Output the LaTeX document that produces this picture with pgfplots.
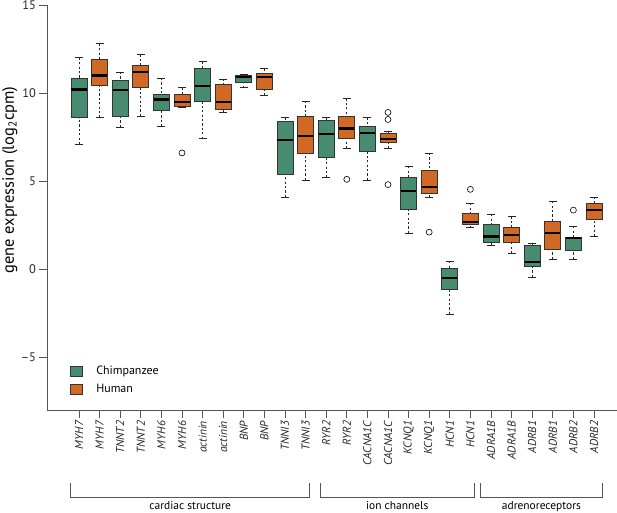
\documentclass[border=0pt]{standalone}
\usepackage{fontspec}
\setmainfont{PT Sans}
\usepackage{pgfplots}
\pgfplotsset{compat=1.18}
\usepgfplotslibrary{statistics}
\definecolor{chimp}{RGB}{71,140,112}
\definecolor{human}{RGB}{209,104,36}
\definecolor{axgray}{RGB}{85,85,85}

\pgfplotsset{
  rbox/.style={
    boxplot/draw direction=y,
    boxplot/draw/box/.code={%
      \draw[/pgfplots/boxplot/every box/.try]
        (boxplot box cs:\pgfplotsboxplotvalue{lower quartile},0) rectangle
        (boxplot box cs:\pgfplotsboxplotvalue{upper quartile},1);},
    boxplot/draw/median/.code={%
      \draw[line width=2.6bp, black]
        (boxplot box cs:\pgfplotsboxplotvalue{median},0.03) --
        (boxplot box cs:\pgfplotsboxplotvalue{median},0.97);},
    boxplot/draw/lower whisker/.code={%
      \draw[black!85, line width=0.7bp, dash pattern=on 2.2bp off 2.2bp]
        (boxplot box cs:\pgfplotsboxplotvalue{lower whisker},0.5) --
        (boxplot box cs:\pgfplotsboxplotvalue{lower quartile},0.5);
      \draw[black!85, line width=0.8bp]
        (boxplot whisker cs:\pgfplotsboxplotvalue{lower whisker},0) --
        (boxplot whisker cs:\pgfplotsboxplotvalue{lower whisker},1);},
    boxplot/draw/upper whisker/.code={%
      \draw[black!85, line width=0.7bp, dash pattern=on 2.2bp off 2.2bp]
        (boxplot box cs:\pgfplotsboxplotvalue{upper whisker},0.5) --
        (boxplot box cs:\pgfplotsboxplotvalue{upper quartile},0.5);
      \draw[black!85, line width=0.8bp]
        (boxplot whisker cs:\pgfplotsboxplotvalue{upper whisker},0) --
        (boxplot whisker cs:\pgfplotsboxplotvalue{upper whisker},1);},
  },
}

% #1 position, #2 colour, #3 lower whisker, #4 Q1, #5 median, #6 Q3, #7 upper whisker, #8 outliers
\newcommand{\bx}[8]{%
  \addplot[rbox, forget plot, mark=o, mark size=3bp,
    mark options={black, solid, line width=0.6bp},
    boxplot prepared={draw position=#1, lower whisker=#3, lower quartile=#4,
      median=#5, upper quartile=#6, upper whisker=#7,
      box extend=0.78, whisker extend=0.38,
      every box/.style={draw=black!80, fill=#2, line width=0.7bp}}]
    coordinates {#8};
}

\begin{document}
\begin{tikzpicture}
\begin{axis}[
  scale only axis, width=570bp, height=405bp,
  xmin=-1.553, xmax=26.117, ymin=-8, ymax=15,
  axis x line*=bottom, axis y line*=left,
  axis line style={axgray, line width=0.8bp},
  every tick/.style={axgray, line width=0.8bp},
  tick align=outside, major tick length=7.5bp,
  xtick={0,...,25},
  xticklabels={MYH7,MYH7,TNNT2,TNNT2,MYH6,MYH6,actinin,actinin,BNP,BNP,TNNI3,TNNI3,
    RYR2,RYR2,CACNA1C,CACNA1C,KCNQ1,KCNQ1,HCN1,HCN1,ADRA1B,ADRA1B,ADRB1,ADRB1,ADRB2,ADRB2},
  ytick={-5,0,5,10,15},
  yticklabels={--5,0,5,10,15},
  xticklabel style={rotate=90, anchor=east, font=\fontsize{11.5}{12}\selectfont\itshape, text=black!85},
  yticklabel style={font=\fontsize{12.5}{14}\selectfont, text=black!85},
  ylabel={gene expression (log\textsubscript{2}cpm)},
  ylabel style={at={(axis description cs:-0.065,0.568)}, anchor=center, font=\fontsize{16.5}{19}\selectfont},
  clip=false,
  legend style={draw=none, fill=none, at={(axis description cs:0.04,0.114)}, anchor=north west,
    font=\fontsize{12}{14}\selectfont, row sep=4bp, inner sep=0pt, cells={anchor=west}},
  legend image code/.code={\path[draw=none, fill=none] (0bp,-0.1bp) rectangle (24bp,0.1bp);
    \draw[#1, draw=black!80, line width=0.6bp] (0bp,-5bp) rectangle (12bp,5bp);},
]
\bx{0}{chimp}{7.1}{8.6}{10.2}{10.85}{12.0}{}
\bx{1}{human}{8.6}{10.45}{11.0}{11.9}{12.8}{}
\bx{2}{chimp}{8.07}{8.7}{10.17}{10.7}{11.2}{}
\bx{3}{human}{8.7}{10.3}{11.2}{11.6}{12.2}{}
\bx{4}{chimp}{8.1}{9.0}{9.64}{9.94}{10.85}{}
\bx{5}{human}{9.18}{9.22}{9.5}{9.94}{10.3}{(5,6.6)}
\bx{6}{chimp}{7.4}{9.5}{10.4}{11.4}{11.8}{}
\bx{7}{human}{8.9}{9.1}{9.5}{10.5}{10.8}{}
\bx{8}{chimp}{10.3}{10.6}{10.9}{11.0}{11.08}{}
\bx{9}{human}{9.85}{10.2}{10.9}{11.1}{11.4}{}
\bx{10}{chimp}{4.1}{5.4}{7.33}{8.4}{8.6}{}
\bx{11}{human}{5.06}{6.6}{7.56}{8.7}{9.55}{}
\bx{12}{chimp}{5.2}{6.36}{7.67}{8.47}{8.6}{}
\bx{13}{human}{6.87}{7.43}{8.0}{8.65}{9.7}{(13,5.1)}
\bx{14}{chimp}{5.06}{6.7}{7.74}{8.1}{8.6}{}
\bx{15}{human}{6.87}{7.2}{7.4}{7.7}{7.84}{(15,8.9) (15,8.5) (15,4.8)}
\bx{16}{chimp}{2.05}{3.4}{4.43}{5.2}{5.85}{}
\bx{17}{human}{4.1}{4.3}{4.66}{5.6}{6.6}{(17,2.1)}
\bx{18}{chimp}{-2.55}{-1.13}{-0.51}{0.06}{0.45}{}
\bx{19}{human}{2.35}{2.55}{2.67}{3.18}{3.74}{(19,4.53)}
\bx{20}{chimp}{1.36}{1.53}{1.87}{2.55}{3.12}{}
\bx{21}{human}{0.9}{1.53}{1.93}{2.4}{3.0}{}
\bx{22}{chimp}{-0.45}{0.17}{0.4}{1.36}{1.48}{}
\bx{23}{human}{0.57}{1.14}{2.05}{2.73}{3.86}{}
\bx{24}{chimp}{0.57}{1.08}{1.76}{1.82}{2.44}{(24,3.35)}
\bx{25}{human}{1.87}{2.84}{3.35}{3.75}{4.1}{}
\addlegendimage{fill=chimp}
\addlegendentry{Chimpanzee}
\addlegendimage{fill=human}
\addlegendentry{Human}
% group brackets
\draw[axgray, line width=0.8bp] (axis cs:-0.4,-12.15) -- (axis cs:-0.4,-12.94) -- (axis cs:11.2,-12.94) -- (axis cs:11.2,-12.15);
\draw[axgray, line width=0.8bp] (axis cs:11.7,-12.15) -- (axis cs:11.7,-12.94) -- (axis cs:19.2,-12.94) -- (axis cs:19.2,-12.15);
\draw[axgray, line width=0.8bp] (axis cs:19.5,-12.15) -- (axis cs:19.5,-12.94) -- (axis cs:25.4,-12.94) -- (axis cs:25.4,-12.15);
\node[anchor=north, inner sep=0pt, font=\fontsize{11.5}{13}\selectfont] at (axis cs:5.4,-13.2) {cardiac structure};
\node[anchor=north, inner sep=0pt, font=\fontsize{11.5}{13}\selectfont] at (axis cs:15.45,-13.2) {ion channels};
\node[anchor=north, inner sep=0pt, font=\fontsize{11.5}{13}\selectfont] at (axis cs:22.45,-13.2) {adrenoreceptors};
\end{axis}
\pgfresetboundingbox
\useasboundingbox (-47bp,-103bp) rectangle (570bp,410bp);
\end{tikzpicture}
\end{document}
